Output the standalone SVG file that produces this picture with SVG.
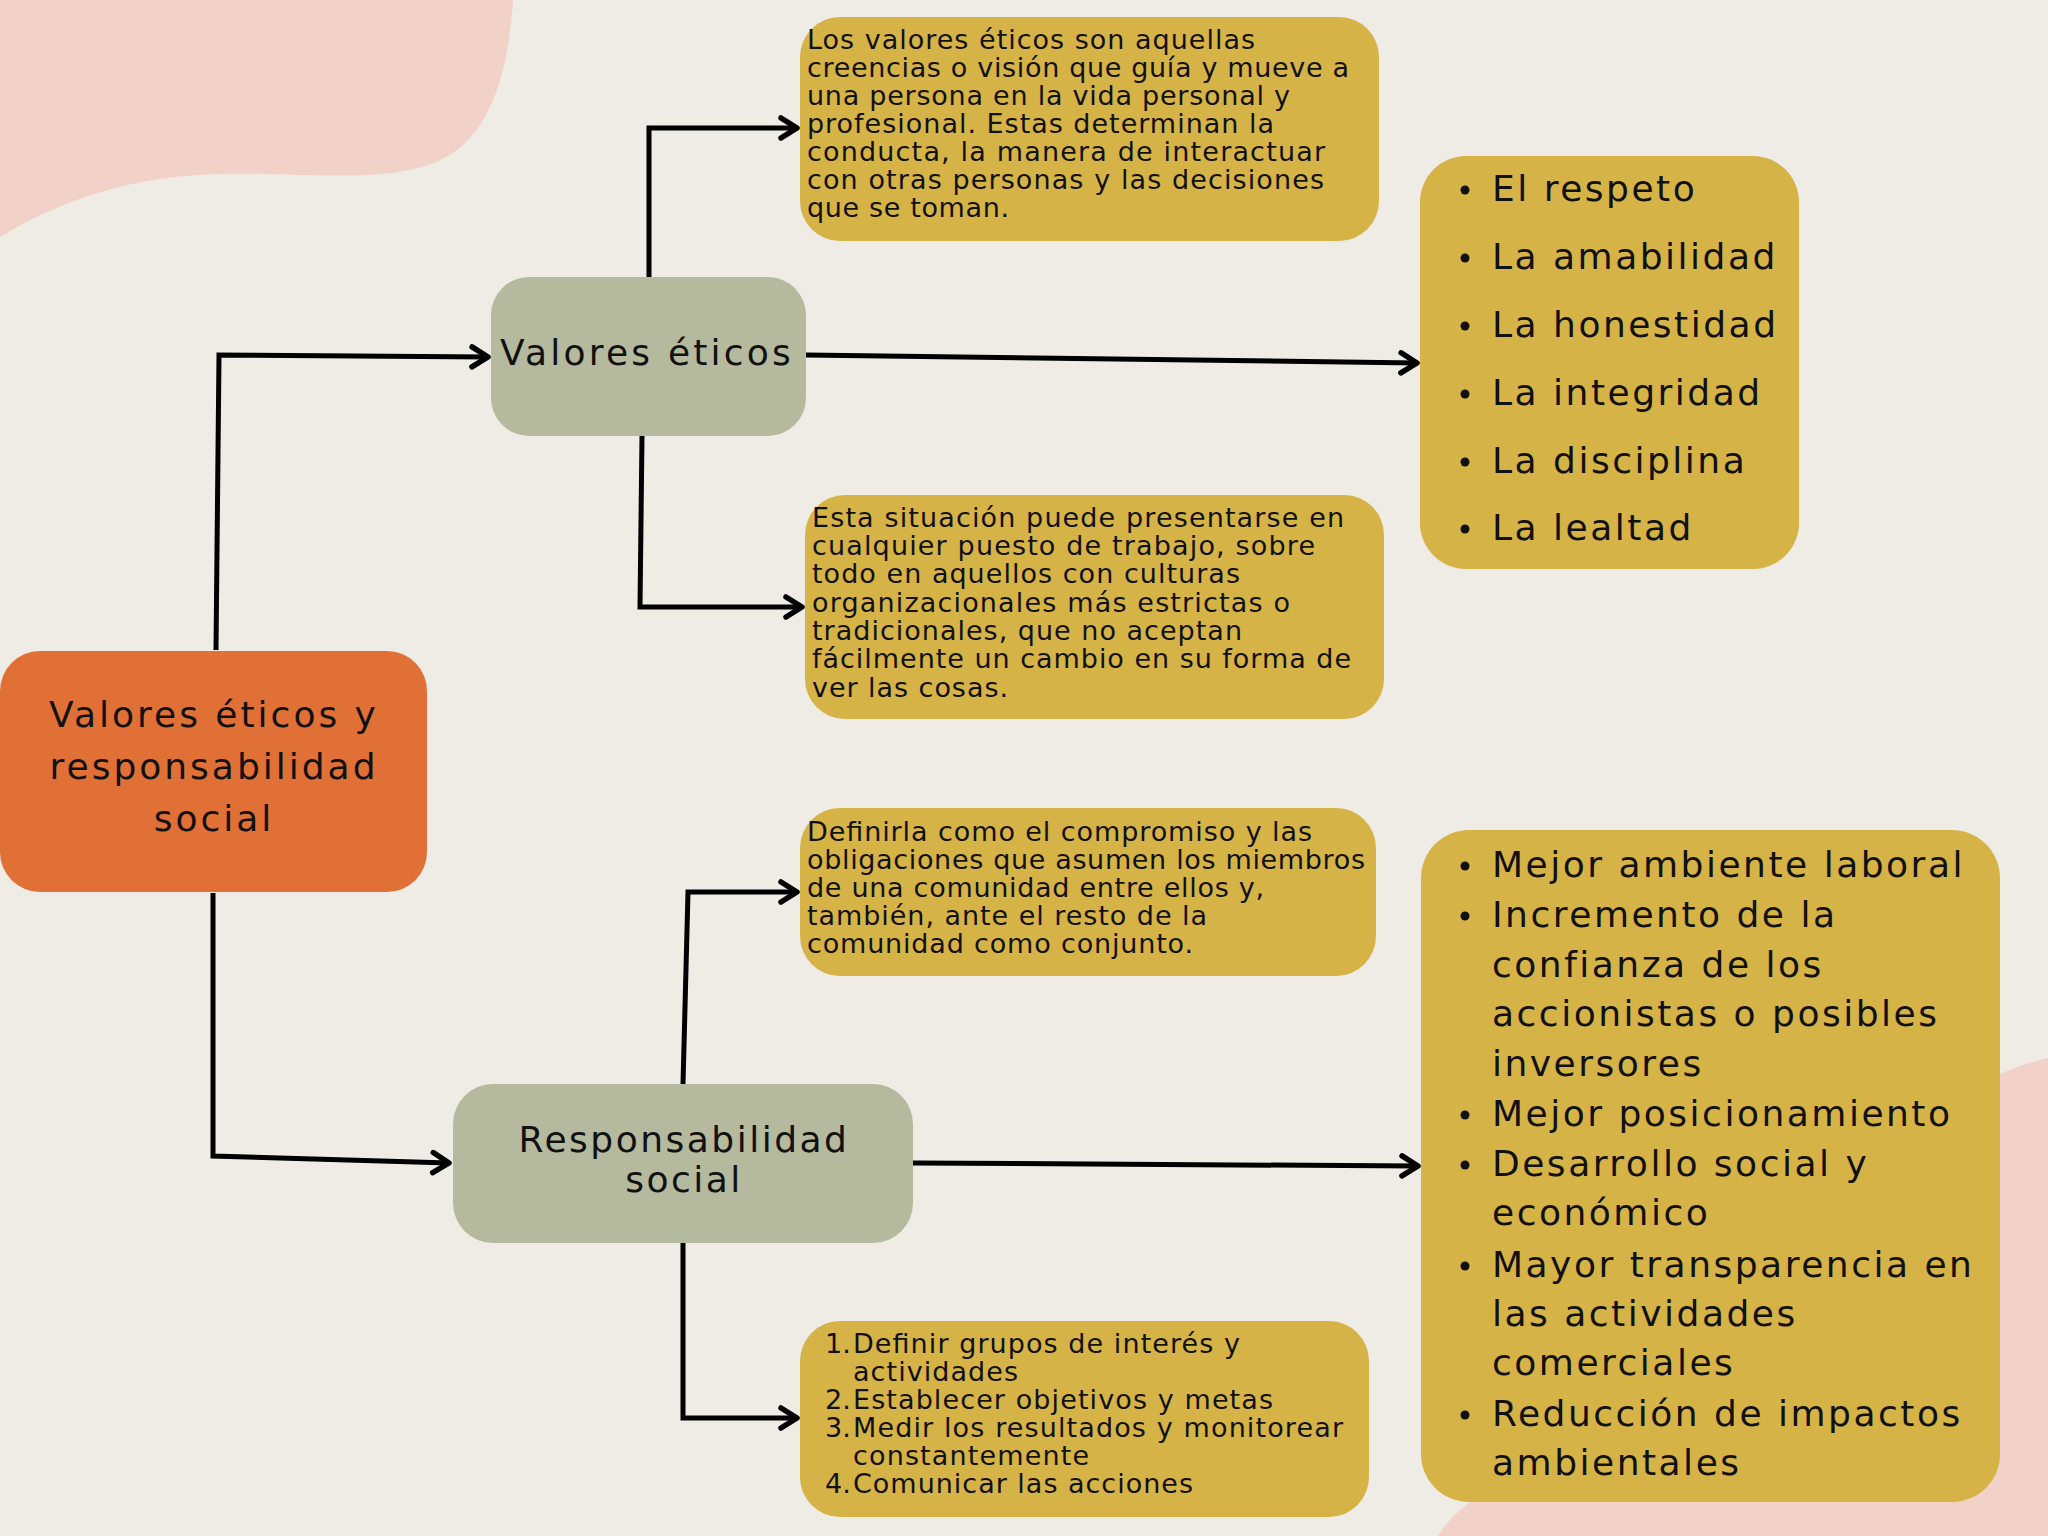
<svg xmlns="http://www.w3.org/2000/svg" width="2048" height="1536" viewBox="0 0 2048 1536">
<style>
.bg{fill:#EFEBE5}
.blob{fill:#F2D1C9}
.gold{fill:#D6B347}
.sage{fill:#B5B99D}
.orange{fill:#E07035}
.sm{font-family:"DejaVu Sans","Liberation Sans",sans-serif;font-size:27px;fill:#111}
.lg{font-family:"DejaVu Sans","Liberation Sans",sans-serif;font-size:36px;letter-spacing:2.5px;fill:#111}
.wide{letter-spacing:3px}
.ctr{text-anchor:middle}
.bul{fill:#111}
.con{fill:none;stroke:#000;stroke-width:5;stroke-linejoin:miter;marker-end:url(#arr)}
</style>
<defs>
<marker id="arr" markerUnits="userSpaceOnUse" viewBox="-22 -15 27 30" refX="0" refY="0" markerWidth="27" markerHeight="30" orient="auto">
<path d="M-16,-10 L0,0 L-16,10" fill="none" stroke="#000" stroke-width="5.5" stroke-linecap="round" stroke-linejoin="round"/>
</marker>
</defs>
<rect class="bg" x="0" y="0" width="2048" height="1536"/>
<path class="blob" d="M0 0 H513 C508 80 488 130 450 155 C 410 178 360 176 300 175 C 220 173 120 165 0 237 Z"/>
<path class="blob" d="M1438 1536 C1470 1480 1600 1440 1800 1300 C1900 1150 1950 1080 2048 1058 V1536 Z"/>

<g id="connectors">
<polyline class="con" points="216,650 219,355 488,357"/>
<polyline class="con" points="649,277 649,128 797,128"/>
<polyline class="con" points="806,355 1417,363"/>
<polyline class="con" points="642,436 640,607 802,607"/>
<polyline class="con" points="213,893 213,1156 449,1163"/>
<polyline class="con" points="683,1084 688,892 797,892"/>
<polyline class="con" points="913,1163 1418,1166"/>
<polyline class="con" points="683,1243 683,1418 797,1418"/>
</g>

<g id="root">
<rect class="orange" x="0" y="651" width="427" height="241" rx="40"/>
<text class="lg ctr wide" x="214" y="727">Valores éticos y</text>
<text class="lg ctr wide" x="214" y="779">responsabilidad</text>
<text class="lg ctr wide" x="214" y="831">social</text>
</g>

<g id="valores">
<rect class="sage" x="491" y="277" width="315" height="159" rx="38"/>
<text class="lg ctr" x="647" y="365" style="letter-spacing:3.2px">Valores éticos</text>
</g>

<g id="responsabilidad">
<rect class="sage" x="453" y="1084" width="460" height="159" rx="40"/>
<text class="lg ctr" x="684" y="1152">Responsabilidad</text>
<text class="lg ctr" x="684" y="1192">social</text>
</g>

<g id="def-valores">
<rect class="gold" x="800" y="17" width="579" height="224" rx="40"/>
<text class="sm" x="807" y="49" textLength="448">Los valores éticos son aquellas</text>
<text class="sm" x="807" y="77" textLength="542">creencias o visión que guía y mueve a</text>
<text class="sm" x="807" y="105" textLength="483">una persona en la vida personal y</text>
<text class="sm" x="807" y="133" textLength="467">profesional. Estas determinan la</text>
<text class="sm" x="807" y="161" textLength="518">conducta, la manera de interactuar</text>
<text class="sm" x="807" y="189" textLength="517">con otras personas y las decisiones</text>
<text class="sm" x="807" y="217" textLength="202">que se toman.</text>
</g>

<g id="situacion">
<rect class="gold" x="805" y="495" width="579" height="224" rx="40"/>
<text class="sm" x="812" y="527" textLength="532">Esta situación puede presentarse en</text>
<text class="sm" x="812" y="555" textLength="503">cualquier puesto de trabajo, sobre</text>
<text class="sm" x="812" y="583" textLength="428">todo en aquellos con culturas</text>
<text class="sm" x="812" y="612" textLength="478">organizacionales más estrictas o</text>
<text class="sm" x="812" y="640" textLength="430">tradicionales, que no aceptan</text>
<text class="sm" x="812" y="668" textLength="539">fácilmente un cambio en su forma de</text>
<text class="sm" x="812" y="697" textLength="196">ver las cosas.</text>
</g>

<g id="lista-valores">
<rect class="gold" x="1420" y="156" width="379" height="413" rx="46"/>
<circle class="bul" cx="1465" cy="190" r="4.5"/>
<circle class="bul" cx="1465" cy="258" r="4.5"/>
<circle class="bul" cx="1465" cy="326" r="4.5"/>
<circle class="bul" cx="1465" cy="394" r="4.5"/>
<circle class="bul" cx="1465" cy="462" r="4.5"/>
<circle class="bul" cx="1465" cy="529" r="4.5"/>
<text class="lg" x="1492" y="201">El respeto</text>
<text class="lg" x="1492" y="269">La amabilidad</text>
<text class="lg" x="1492" y="337">La honestidad</text>
<text class="lg" x="1492" y="405">La integridad</text>
<text class="lg" x="1492" y="473">La disciplina</text>
<text class="lg" x="1492" y="540">La lealtad</text>
</g>

<g id="def-responsabilidad">
<rect class="gold" x="800" y="808" width="576" height="168" rx="40"/>
<text class="sm" x="807" y="841" textLength="505">Definirla como el compromiso y las</text>
<text class="sm" x="807" y="869" textLength="558">obligaciones que asumen los miembros</text>
<text class="sm" x="807" y="897" textLength="457">de una comunidad entre ellos y,</text>
<text class="sm" x="807" y="925" textLength="400">también, ante el resto de la</text>
<text class="sm" x="807" y="953" textLength="386">comunidad como conjunto.</text>
</g>

<g id="pasos">
<rect class="gold" x="800" y="1321" width="569" height="196" rx="40"/>
<text class="sm" x="825" y="1353">1.</text>
<text class="sm" x="853" y="1353" textLength="387">Definir grupos de interés y</text>
<text class="sm" x="853" y="1381" textLength="165">actividades</text>
<text class="sm" x="825" y="1409">2.</text>
<text class="sm" x="853" y="1409" textLength="420">Establecer objetivos y metas</text>
<text class="sm" x="825" y="1437">3.</text>
<text class="sm" x="853" y="1437" textLength="490">Medir los resultados y monitorear</text>
<text class="sm" x="853" y="1465" textLength="236">constantemente</text>
<text class="sm" x="825" y="1493">4.</text>
<text class="sm" x="853" y="1493" textLength="340">Comunicar las acciones</text>
</g>

<g id="beneficios">
<rect class="gold" x="1421" y="830" width="579" height="672" rx="48"/>
<circle class="bul" cx="1465" cy="866" r="4.5"/>
<circle class="bul" cx="1465" cy="916" r="4.5"/>
<circle class="bul" cx="1465" cy="1115" r="4.5"/>
<circle class="bul" cx="1465" cy="1165" r="4.5"/>
<circle class="bul" cx="1465" cy="1266" r="4.5"/>
<circle class="bul" cx="1465" cy="1415" r="4.5"/>
<text class="lg" x="1492" y="877">Mejor ambiente laboral</text>
<text class="lg" x="1492" y="927">Incremento de la</text>
<text class="lg" x="1492" y="977">confianza de los</text>
<text class="lg" x="1492" y="1026">accionistas o posibles</text>
<text class="lg" x="1492" y="1076">inversores</text>
<text class="lg" x="1492" y="1126">Mejor posicionamiento</text>
<text class="lg" x="1492" y="1176">Desarrollo social y</text>
<text class="lg" x="1492" y="1225">económico</text>
<text class="lg" x="1492" y="1277">Mayor transparencia en</text>
<text class="lg" x="1492" y="1326">las actividades</text>
<text class="lg" x="1492" y="1375">comerciales</text>
<text class="lg" x="1492" y="1426">Reducción de impactos</text>
<text class="lg" x="1492" y="1475">ambientales</text>
</g>
</svg>
